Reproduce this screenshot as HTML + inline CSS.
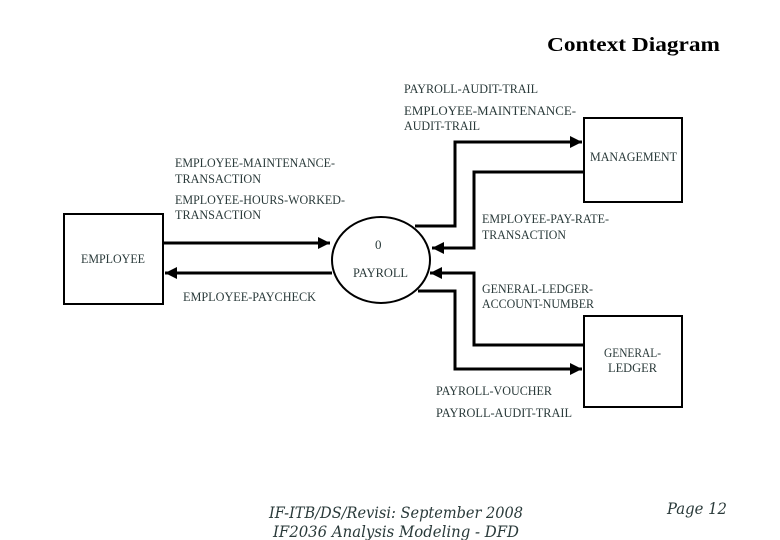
<!DOCTYPE html>
<html><head><meta charset="utf-8"><style>
html,body{margin:0;padding:0;background:#fff}
svg{display:block}
text{font-family:"Liberation Serif",serif;fill:#2a3a3a;font-size:13px}
</style></head><body>
<svg width="780" height="540" viewBox="0 0 780 540" xmlns="http://www.w3.org/2000/svg">
<defs>
<marker id="a" viewBox="0 0 10 10" refX="10" refY="5" markerWidth="4" markerHeight="4" orient="auto"><path d="M0,0L10,5L0,10z" fill="#000"/></marker>
</defs>
<text x="547" y="51" style="font-family:'Liberation Serif',serif;font-size:20px;font-weight:bold;fill:#000" textLength="173" lengthAdjust="spacingAndGlyphs">Context Diagram</text>

<text x="404" y="93" textLength="134" lengthAdjust="spacingAndGlyphs">PAYROLL-AUDIT-TRAIL</text>
<text x="404" y="115" textLength="172" lengthAdjust="spacingAndGlyphs">EMPLOYEE-MAINTENANCE-</text>
<text x="404" y="130" textLength="76" lengthAdjust="spacingAndGlyphs">AUDIT-TRAIL</text>

<text x="175" y="167" textLength="160" lengthAdjust="spacingAndGlyphs">EMPLOYEE-MAINTENANCE-</text>
<text x="175" y="183" textLength="86" lengthAdjust="spacingAndGlyphs">TRANSACTION</text>
<text x="175" y="204" textLength="170" lengthAdjust="spacingAndGlyphs">EMPLOYEE-HOURS-WORKED-</text>
<text x="175" y="219" textLength="86" lengthAdjust="spacingAndGlyphs">TRANSACTION</text>

<rect x="64" y="214" width="99" height="90" fill="none" stroke="#000" stroke-width="2"/>
<text x="81" y="263" textLength="64" lengthAdjust="spacingAndGlyphs">EMPLOYEE</text>

<ellipse cx="381" cy="260" rx="49" ry="43" fill="none" stroke="#000" stroke-width="2"/>
<text x="375" y="249">0</text>
<text x="353" y="277" textLength="55" lengthAdjust="spacingAndGlyphs">PAYROLL</text>

<text x="183" y="301" textLength="133" lengthAdjust="spacingAndGlyphs">EMPLOYEE-PAYCHECK</text>

<rect x="584" y="118" width="98" height="84" fill="none" stroke="#000" stroke-width="2"/>
<text x="590" y="161" textLength="87" lengthAdjust="spacingAndGlyphs">MANAGEMENT</text>

<text x="482" y="223" textLength="127" lengthAdjust="spacingAndGlyphs">EMPLOYEE-PAY-RATE-</text>
<text x="482" y="239" textLength="84" lengthAdjust="spacingAndGlyphs">TRANSACTION</text>

<text x="482" y="293" textLength="111" lengthAdjust="spacingAndGlyphs">GENERAL-LEDGER-</text>
<text x="482" y="308" textLength="112" lengthAdjust="spacingAndGlyphs">ACCOUNT-NUMBER</text>

<rect x="584" y="316" width="98" height="91" fill="none" stroke="#000" stroke-width="2"/>
<text x="604" y="357" textLength="57" lengthAdjust="spacingAndGlyphs">GENERAL-</text>
<text x="608" y="372" textLength="49" lengthAdjust="spacingAndGlyphs">LEDGER</text>

<text x="436" y="395" textLength="116" lengthAdjust="spacingAndGlyphs">PAYROLL-VOUCHER</text>
<text x="436" y="417" textLength="136" lengthAdjust="spacingAndGlyphs">PAYROLL-AUDIT-TRAIL</text>

<g fill="none" stroke="#000" stroke-width="3">
<path d="M163,243 H330" marker-end="url(#a)"/>
<path d="M332,273 H165" marker-end="url(#a)"/>
<path d="M415,226 H455 V142 H582" marker-end="url(#a)"/>
<path d="M584,172 H474 V248 H432" marker-end="url(#a)"/>
<path d="M584,345 H474 V273 H430" marker-end="url(#a)"/>
<path d="M418,291 H455 V369 H582" marker-end="url(#a)"/>
</g>

<text x="269" y="518" style="font-family:'DejaVu Serif','Liberation Serif',serif;font-style:italic;font-size:16px" textLength="254" lengthAdjust="spacingAndGlyphs">IF-ITB/DS/Revisi: September 2008</text>
<text x="273" y="537" style="font-family:'DejaVu Serif','Liberation Serif',serif;font-style:italic;font-size:16px" textLength="246" lengthAdjust="spacingAndGlyphs">IF2036 Analysis Modeling - DFD</text>
<text x="667" y="514" style="font-family:'DejaVu Serif','Liberation Serif',serif;font-style:italic;font-size:16px" textLength="60" lengthAdjust="spacingAndGlyphs">Page 12</text>
</svg>
</body></html>
